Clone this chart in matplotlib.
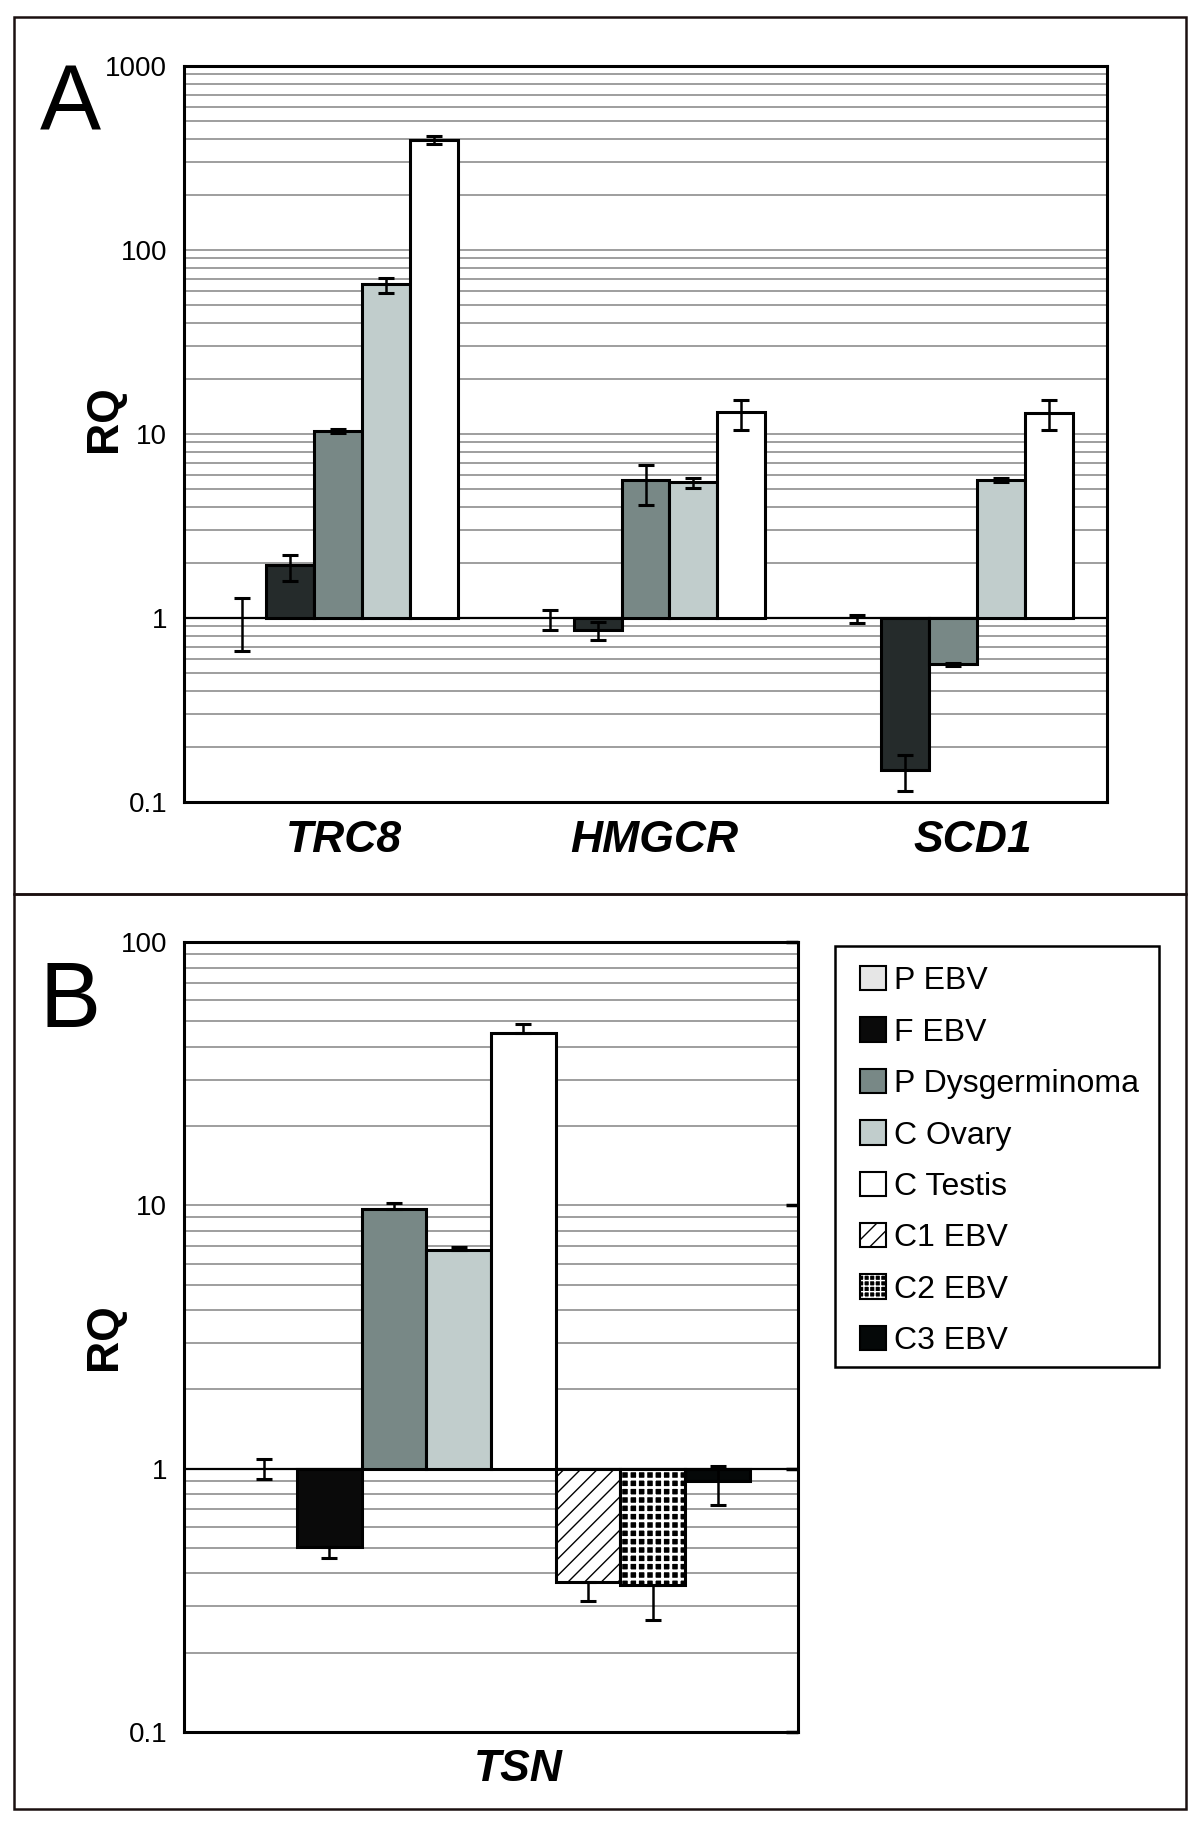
import matplotlib
matplotlib.use('Agg')
import matplotlib.pyplot as plt
import numpy as np
from matplotlib.patches import Rectangle, Patch
from matplotlib.ticker import LogLocator, NullFormatter, FixedLocator, FixedFormatter

plt.rcParams['font.family'] = ['Liberation Sans', 'DejaVu Sans']
plt.rcParams['hatch.linewidth'] = 1.0

# ---------------- data ----------------
genes_a = ['TRC8', 'HMGCR', 'SCD1']
series = ['P EBV', 'F EBV', 'P Dysgerminoma', 'C Ovary', 'C Testis',
          'C1 EBV', 'C2 EBV', 'C3 EBV']

# Panel A (RQ value, lower and upper error limits) per gene
pebv_a = [1.0, 1.0, 1.0]
pebv_a_lo = [0.66, 0.86, 0.94]
pebv_a_hi = [1.28, 1.10, 1.04]
febv_a = [1.94, 0.86, 0.150]
febv_a_lo = [1.59, 0.76, 0.115]
febv_a_hi = [2.20, 0.95, 0.181]
pdys_a = [10.4, 5.63, 0.56]
pdys_a_lo = [10.1, 4.13, 0.55]
pdys_a_hi = [10.7, 6.77, 0.57]
cova_a = [65.0, 5.5, 5.63]
cova_a_lo = [58.6, 5.08, 5.5]
cova_a_hi = [70.7, 5.8, 5.75]
ctes_a = [395.0, 13.1, 13.0]
ctes_a_lo = [376.0, 10.5, 10.5]
ctes_a_hi = [415.0, 15.3, 15.3]

# Panel B (TSN) one value per series
gene_b = ['TSN']
rq_b = [1.0, 0.503, 9.7, 6.76, 45.1, 0.371, 0.362, 0.895]
rq_b_lo = [0.916, 0.457, 9.7, 6.76, 45.1, 0.314, 0.266, 0.73]
rq_b_hi = [1.09, 0.503, 10.2, 6.94, 48.9, 0.371, 0.362, 1.02]

yticks_a = [0.1, 1, 10, 100, 1000]
ytick_labels_a = ['0.1', '1', '10', '100', '1000']
yticks_b = [0.1, 1, 10, 100]
ytick_labels_b = ['0.1', '1', '10', '100']

# ---------------- styles ----------------
colors_a = ['#e6e6e6', '#252b2b', '#788886', '#c1cdcc', '#ffffff']
colors_b = ['#e6e6e6', '#0a0a0a', '#788886', '#c1cdcc', '#ffffff',
            '#ffffff', '#000000', '#050808']
hatches_b = [None, None, None, None, None, '//', '++', None]
grid_col = '#8e8e8e'
label_shift_a = [0.02, 0.03, 0.065]   # visual offsets of the category labels
label_shift_b = 0.044

W, H = 1200, 1826
fig = plt.figure(figsize=(W / 100, H / 100), dpi=100)

# panel frames
for (y0, y1) in [(17, 894), (894, 1809)]:
    fig.patches.append(Rectangle((14 / W, 1 - y1 / H), (1186 - 14) / W, (y1 - y0) / H,
                                 transform=fig.transFigure, fill=False,
                                 edgecolor='#1a1010', linewidth=1.8, zorder=0))


def style_axis(ax, ticks, labels):
    ax.set_yscale('log')
    ax.set_ylim(ticks[0], ticks[-1])
    ax.yaxis.set_major_locator(FixedLocator(ticks))
    ax.yaxis.set_major_formatter(FixedFormatter(labels))
    ax.yaxis.set_minor_locator(LogLocator(base=10, subs=np.arange(2, 10)))
    ax.yaxis.set_minor_formatter(NullFormatter())
    ax.grid(True, which='both', axis='y', color=grid_col, linewidth=1.2, zorder=0)
    ax.set_axisbelow(True)
    ax.tick_params(axis='y', which='both', length=0, labelsize=20, pad=12)
    ax.tick_params(axis='x', length=0)
    for s in ax.spines.values():
        s.set_linewidth(2.2)
        s.set_color('black')
    ax.axhline(1, color='black', linewidth=1.6, zorder=1.5)


# ---------------- Panel A ----------------
axA = fig.add_axes([184 / W, 1 - 802 / H, (1107 - 184) / W, (802 - 66) / H])
style_axis(axA, yticks_a, ytick_labels_a)
xa = np.arange(len(genes_a))
wa = 0.156
sets_a = [(pebv_a, pebv_a_lo, pebv_a_hi), (febv_a, febv_a_lo, febv_a_hi),
          (pdys_a, pdys_a_lo, pdys_a_hi), (cova_a, cova_a_lo, cova_a_hi),
          (ctes_a, ctes_a_lo, ctes_a_hi)]
for i, (v, lo, hi) in enumerate(sets_a):
    v = np.array(v); lo = np.array(lo); hi = np.array(hi)
    xi = xa + (i - 2) * wa
    lw = [0 if abs(val - 1) < 1e-9 else 2.2 for val in v]
    axA.bar(xi, v - 1, bottom=1, width=wa, color=colors_a[i], edgecolor='black',
            linewidth=lw, zorder=3)
    axA.errorbar(xi, v, yerr=[v - lo, hi - v], fmt='none', ecolor='black',
                 elinewidth=1.8, capsize=6, capthick=2.2, zorder=4)
axA.set_xlim(-0.5, len(genes_a) - 0.5)
axA.set_xticks(xa + np.array(label_shift_a))
axA.set_xticklabels(genes_a, fontsize=32, fontweight='bold', fontstyle='italic')
axA.tick_params(axis='x', pad=13)

# ---------------- Panel B ----------------
axB = fig.add_axes([184 / W, 1 - 1732 / H, (798 - 184) / W, (1732 - 942) / H])
style_axis(axB, yticks_b, ytick_labels_b)
wb = 0.1054
handles = []
for i in range(len(series)):
    v = rq_b[i]
    xi = (i - 3.5) * wb
    lw = 0 if abs(v - 1) < 1e-9 else 2.2
    if hatches_b[i] == '++':
        with plt.rc_context({'hatch.linewidth': 2.0}):
            axB.bar(xi, v - 1, bottom=1, width=wb, color='black', edgecolor='white',
                    hatch=hatches_b[i], linewidth=0, zorder=3)
            hp = Patch(facecolor='black', edgecolor='white', hatch='+++', linewidth=0)
        axB.bar(xi, v - 1, bottom=1, width=wb, fill=False, edgecolor='black',
                linewidth=2.2, zorder=3.1)
        handles.append((hp, Patch(fill=False, edgecolor='black', linewidth=1.5)))
    else:
        axB.bar(xi, v - 1, bottom=1, width=wb, color=colors_b[i], edgecolor='black',
                hatch=hatches_b[i], linewidth=lw, zorder=3)
        handles.append(Patch(facecolor=colors_b[i], edgecolor='black',
                             hatch=hatches_b[i], linewidth=1.5))
    axB.errorbar([xi], [v], yerr=[[v - rq_b_lo[i]], [rq_b_hi[i] - v]], fmt='none',
                 ecolor='black', elinewidth=1.8, capsize=6, capthick=2.2, zorder=4)
axB.set_xlim(-0.5, 0.5)
axB.set_xticks([label_shift_b])
axB.set_xticklabels(gene_b, fontsize=32, fontweight='bold', fontstyle='italic')
axB.tick_params(axis='x', pad=12)
axB.tick_params(axis='y', which='major', right=True, direction='in', length=9, width=2.5)
axB.tick_params(axis='y', which='major', left=False)

# legend box and entries
fig.patches.append(Rectangle((835 / W, 1 - 1367 / H), (1159 - 835) / W, (1367 - 946) / H,
                             transform=fig.transFigure, fill=False,
                             edgecolor='black', linewidth=1.8, zorder=0))
leg = fig.legend(handles, series, loc='upper left',
                 bbox_to_anchor=(860 / W, 1 - 966 / H),
                 fontsize=23, frameon=False,
                 handlelength=0.8, handleheight=0.8,
                 handletextpad=0.25, labelspacing=0.66, borderpad=0,
                 borderaxespad=0)

# RQ labels and panel letters
fig.text(105 / W, 1 - 419 / H, 'RQ', rotation=90, fontsize=32, fontweight='bold',
         ha='center', va='center')
fig.text(105 / W, 1 - 1337 / H, 'RQ', rotation=90, fontsize=32, fontweight='bold',
         ha='center', va='center')
fig.text(70 / W, 1 - 106 / H, 'A', fontsize=66, ha='center', va='center')
fig.text(70 / W, 1 - 1003 / H, 'B', fontsize=66, ha='center', va='center')

fig.savefig('out.png', dpi=100)
